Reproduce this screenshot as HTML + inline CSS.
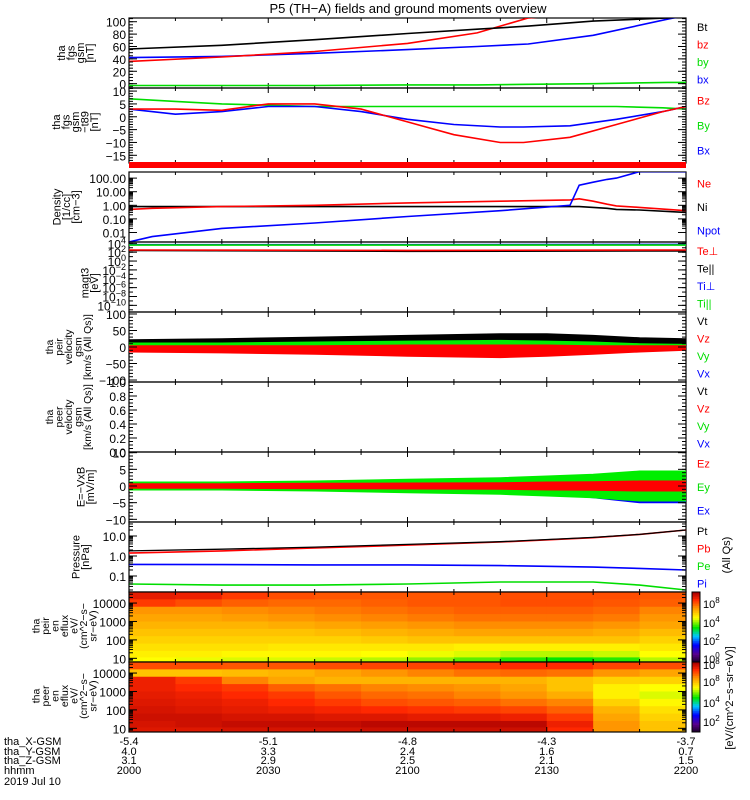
<!DOCTYPE html>
<html><head><meta charset="utf-8"><style>
html,body{margin:0;padding:0;background:#fff;}
svg{display:block;font-family:"Liberation Sans",sans-serif;}
</style></head><body>
<svg id="chart" width="750" height="800" viewBox="0 0 750 800" xmlns="http://www.w3.org/2000/svg">
<defs id="defs"></defs>
<text x="408" y="13" font-size="13" text-anchor="middle">P5 (TH−A) fields and ground moments overview</text>
<g id="g"></g>
</svg>
<script>
// ---- time axis (minutes since 2000) ----
const tickMinutes=[0,30,60,90,120];
const tickHHMM=["2000","2030","2100","2130","2200"];
const tickX=["-5.4","-5.1","-4.8","-4.3","-3.7"];
const tickY=["4.0","3.3","2.4","1.6","0.7"];
const tickZ=["3.1","2.9","2.5","2.1","1.5"];
// ---- panel 1: B field gsm ----
const p1T=[0,20,40,60,75,86,100,116,120];
const p1Bt=[56,62,71,81,88,93,101,106,108];
const p1Bz=[36,43,52,65,82,106,115,120,120];
const p1Bx=[42,44,49,55,60,64,78,104,110];
const p1By=[-3,-3,-3,-2,-2,-1,0,2,2];
// ---- panel 2: B - T89 ----
const p2T=[0,10,20,30,40,50,60,70,80,85,95,105,115,120];
const p2Bz=[3,3,2.5,5,5,3,-2,-7,-10,-10,-8,-3,2,4];
const p2Bx=[3,1,2,4,4,2,-1,-3,-4,-4,-3.5,-1,2,4];
const p2By=[7,6,5,4.5,4,4,4,4,4,4,4,4,3.5,3];
// ---- panel 3: density ----
const p3T=[0,5,20,40,60,80,95,97,100,103,105,110,120];
const p3Ni=[0.8,0.8,0.8,0.8,0.8,0.8,0.8,0.8,0.7,0.6,0.5,0.45,0.3];
const p3Ne=[0.5,0.6,0.8,1,1.5,2,2.5,3,2,1.2,0.9,0.7,0.4];
const p3Np=[0.002,0.005,0.02,0.05,0.15,0.4,1,30,50,80,100,300,300];
// ---- panel 4: temperatures (log10 eV) ----
const p4T=[0,60,120];
const p4TeP=[2.5,2.4,2.5];
const p4TePar=[2.4,2.2,2.3];
const p4TiP=[3.7,3.7,3.75];
const p4TiPar=[3.6,3.6,3.6];
// ---- panel 5: ion velocity envelopes (lo/hi) ----
const vT=[0,20,40,60,80,90,100,110,120];
const vtLo=[8,8,8,8,8,8,6,5,5];
const vtHi=[22,25,30,35,40,40,35,28,25];
const vyLo=[-12,-14,-18,-22,-25,-22,-18,-12,-8];
const vyHi=[12,12,15,18,20,18,15,10,8];
const vxLo=[-15,-15,-18,-22,-25,-22,-18,-12,-8];
const vxHi=[6,6,8,8,8,8,6,5,5];
const vzLo=[-15,-18,-22,-28,-32,-28,-22,-15,-10];
const vzHi=[4,4,4,6,6,6,4,4,4];
// ---- panel 7: E field envelopes ----
const eT=[0,20,40,60,80,90,100,110,120];
const eyLo=[-1.2,-1.2,-1.5,-2,-2.5,-3,-3.5,-4.5,-4.5];
const eyHi=[1.2,1.2,1.5,2,2.5,3,3.5,4.5,4.5];
const exLo=[-0.8,-0.8,-1.2,-1.5,-2,-2.5,-3.5,-5,-5];
const exHi=[0.8,0.8,1,1.2,1.5,2,2.5,3,3];
const ezLo=[-0.7,-0.7,-0.8,-0.9,-1,-1.2,-1.3,-1.5,-1.5];
const ezHi=[0.7,0.7,0.8,0.9,1,1.2,1.3,1.5,1.5];
// ---- panel 8: pressure ----
const pT=[0,20,40,60,80,100,110,120];
const pPt=[1.8,2.2,2.8,3.8,5.2,8.5,12,20];
const pPb=[1.4,1.8,2.5,3.5,5,8.2,12,20];
const pPe=[0.38,0.37,0.36,0.36,0.33,0.28,0.24,0.2];
const pPi=[0.04,0.035,0.035,0.04,0.05,0.05,0.035,0.02];
// ---- spectrograms (normalized 0..1 colour values), rows high->low energy ----
const specE=[4.4,4.0,3.6,3.2,2.8,2.4,2.0,1.6,1.2,0.9];
const specT=[0,10,20,30,40,50,60,70,80,90,100,110];
const ionFlux=[
[0.93,0.92,0.88,0.86,0.85,0.85,0.85,0.85,0.86,0.86,0.86,0.85],
[0.88,0.86,0.84,0.83,0.83,0.84,0.85,0.85,0.86,0.86,0.85,0.84],
[0.78,0.78,0.79,0.8,0.81,0.82,0.83,0.84,0.84,0.84,0.83,0.8],
[0.76,0.76,0.77,0.78,0.79,0.8,0.81,0.82,0.82,0.82,0.81,0.78],
[0.74,0.74,0.74,0.75,0.76,0.77,0.78,0.79,0.79,0.79,0.78,0.76],
[0.72,0.72,0.72,0.72,0.73,0.74,0.75,0.76,0.76,0.76,0.75,0.73],
[0.7,0.7,0.7,0.7,0.7,0.71,0.72,0.72,0.72,0.72,0.72,0.7],
[0.68,0.68,0.68,0.67,0.67,0.67,0.67,0.66,0.66,0.66,0.66,0.67],
[0.66,0.66,0.65,0.65,0.65,0.64,0.63,0.62,0.6,0.6,0.61,0.64],
[0.64,0.63,0.62,0.62,0.61,0.6,0.58,0.55,0.52,0.5,0.52,0.6]];
const eleFlux=[
[0.86,0.86,0.85,0.85,0.86,0.87,0.87,0.88,0.9,0.9,0.87,0.86],
[0.72,0.72,0.73,0.74,0.76,0.78,0.8,0.82,0.83,0.82,0.78,0.76],
[0.92,0.88,0.8,0.76,0.74,0.74,0.74,0.74,0.74,0.72,0.7,0.7],
[0.92,0.9,0.88,0.84,0.82,0.8,0.79,0.78,0.76,0.72,0.66,0.64],
[0.93,0.92,0.9,0.88,0.85,0.83,0.82,0.8,0.78,0.75,0.66,0.62],
[0.94,0.93,0.92,0.9,0.88,0.86,0.85,0.84,0.82,0.8,0.7,0.65],
[0.95,0.94,0.93,0.92,0.91,0.9,0.89,0.88,0.87,0.84,0.74,0.68],
[0.96,0.96,0.95,0.95,0.94,0.94,0.93,0.93,0.92,0.88,0.76,0.7],
[0.95,0.96,0.97,0.97,0.97,0.98,0.98,0.98,0.98,0.92,0.78,0.72],
[0.94,0.94,0.95,0.95,0.95,0.96,0.96,0.96,0.96,0.9,0.78,0.72]];

const NS="http://www.w3.org/2000/svg";
const G=document.getElementById('g');
const DEFS=document.getElementById('defs');
const X0=129,X1=686;
let curClip='';
function xs(t){return X0+(t/120)*(X1-X0);}
function el(tag,a,parent){const e=document.createElementNS(NS,tag);for(const k in a)e.setAttribute(k,a[k]);(parent||G).appendChild(e);return e;}
function linMap(top,bot,vTop,vBot){return v=>top+(v-vTop)/(vBot-vTop)*(bot-top);}
function logMap(top,bot,vTop,vBot){return v=>top+(Math.log10(v)-vTop)/(vBot-vTop)*(bot-top);}
function clip(top,bot,id){const c=el('clipPath',{id:id},DEFS);el('rect',{x:X0,y:top,width:X1-X0,height:bot-top},c);curClip='url(#'+id+')';}
function line(T,V,ys,col,name,w){
  const pts=T.map((t,i)=>xs(t).toFixed(1)+','+ys(V[i]).toFixed(1)).join(' ');
  const e=el('polyline',{points:pts,fill:'none',stroke:col,'stroke-width':w||1.6,'clip-path':curClip});
  
  
}
function band(T,lo,hi,ys,col,name){
  let pts=T.map((t,i)=>xs(t).toFixed(1)+','+ys(hi[i]).toFixed(1));
  pts=pts.concat(T.map((t,i)=>xs(t).toFixed(1)+','+ys(lo[i]).toFixed(1)).reverse());
  const e=el('polygon',{points:pts.join(' '),fill:col,stroke:col,'stroke-width':1,'clip-path':curClip});
  
  
}
function frame(top,bot,name){
  const e=el('rect',{x:X0,y:top,width:X1-X0,height:bot-top,fill:'none',stroke:'#000','stroke-width':1.2});
  
  
  for(let m=0;m<=120;m+=10){const x=xs(m);const L=(m%30===0)?5:3;
    el('line',{x1:x,x2:x,y1:top,y2:top+L,stroke:'#000'});el('line',{x1:x,x2:x,y1:bot,y2:bot-L,stroke:'#000'});}
}
function yTicks(ys,majors,labels,minors,name){
  majors.forEach((v,i)=>{const y=ys(v);
    el('line',{x1:X0,x2:X0+8,y1:y,y2:y,stroke:'#000'});el('line',{x1:X1,x2:X1-8,y1:y,y2:y,stroke:'#000'});
    const t=el('text',{x:X0-3,y:y+5,'font-size':12,'text-anchor':'end'});t.textContent=labels[i];
    
    });
  minors.forEach(v=>{const y=ys(v);
    el('line',{x1:X0,x2:X0+4,y1:y,y2:y,stroke:'#000'});el('line',{x1:X1,x2:X1-4,y1:y,y2:y,stroke:'#000'});});
}
function ylab(lines,xc,yc,name,fs){
  const g=el('g',{transform:`translate(${xc},${yc}) rotate(-90)`});
  
  
  const n=lines.length;lines.forEach((s,i)=>{const t=el('text',{x:0,y:(i-(n-1)/2)*9.5+4,'font-size':fs||11,'text-anchor':'middle'},g);t.textContent=s;});
}
function legend(items,top,bot,name){
  const n=items.length;items.forEach((it,i)=>{const y=top+(bot-top)*(i+0.5)/n+4;
    const t=el('text',{x:697,y:y,'font-size':11,fill:it[1]});t.textContent=it[0];
    
    });
}
function range(a,b,s){const r=[];for(let v=a;v<=b+1e-9;v+=s)r.push(+v.toFixed(4));return r;}
function logMinors(d0,d1){const r=[];for(let d=d0;d<d1;d++)for(let k=2;k<10;k++)r.push(k*Math.pow(10,d));return r;}

// Panel 1
let ys=linMap(18,88,106,-7);
clip(18,88,'c1');
frame(18,88,'panel-bfield');
line(p1T,p1By,ys,'#00dd00','by-line');line(p1T,p1Bx,ys,'#0000ff','bx-line');line(p1T,p1Bz,ys,'#ff0000','bz-line');line(p1T,p1Bt,ys,'#000','bt-line');
yTicks(ys,[0,20,40,60,80,100],['0','20','40','60','80','100'],range(-5,105,5),'bfield');
ylab(['tha','fgs','gsm','[nT]'],75,53,'bfield-axis-title');
legend([['Bt','#000'],['bz','#f00'],['by','#0d0'],['bx','#00f']],18,88,'legend-bfield');

// Panel 2
ys=linMap(88,163,11.2,-18);
clip(88,163,'c2');
frame(88,163,'panel-bt89');
line(p2T,p2By,ys,'#00dd00','by-t89-line');line(p2T,p2Bx,ys,'#0000ff','bx-t89-line');line(p2T,p2Bz,ys,'#ff0000','bz-t89-line');
yTicks(ys,[-15,-10,-5,0,5,10],['−15','−10','−5','0','5','10'],range(-17,11,1),'bt89');
ylab(['tha','fgs','gsm','−t89','[nT]'],75,122,'bt89-axis-title');
legend([['Bz','#f00'],['By','#0d0'],['Bx','#00f']],88,163,'legend-bt89');
const bar=el('rect',{x:X0,y:162,width:X1-X0,height:6,fill:'#ff0000'});



// Panel 3
ys=logMap(172,242,2.45,-2.7);
clip(172,242,'c3');
frame(172,242,'panel-density');
line(p3T,p3Ni,ys,'#000','ni-line');line(p3T,p3Ne,ys,'#ff0000','ne-line');
line(p3T,p3Np,ys,'#0000ff','npot-line');
yTicks(ys,[0.01,0.1,1,10,100],['0.01','0.10','1.00','10.00','100.00'],logMinors(-2,2),'density');
ylab(['Density','[1/cc]','[cm−3]'],66,207,'density-axis-title');
legend([['Ne','#f00'],['Ni','#000'],['Npot','#00f']],172,242,'legend-density');

// Panel 4
ys=linMap(242,312,4.3,-11.5);
clip(242,312,'c4');
frame(242,312,'panel-temperature');
line(p4T,p4TiP,ys,'#0000ff','ti-perp-line');line(p4T,p4TiPar,ys,'#00dd00','ti-par-line');
line(p4T,p4TePar,ys,'#000','te-par-line');line(p4T,p4TeP,ys,'#ff0000','te-perp-line');
yTicks(ys,[4,2,0,-2,-4,-6,-8,-10],['','','','','','','',''],range(-11,4,1),'temperature');
[[4,'4'],[2,'2'],[0,'0'],[-2,'−2'],[-4,'−4'],[-6,'−6'],[-8,'−8'],[-10,'−10']].forEach(a=>{const y=ys(a[0]);
  const t=el('text',{x:X0-3,y:y+5,'font-size':12,'text-anchor':'end'});
  
  
  const b=document.createElementNS(NS,'tspan');b.textContent='10';t.appendChild(b);
  const s=document.createElementNS(NS,'tspan');s.setAttribute('dy','-5');s.setAttribute('font-size','9');s.textContent=a[1];t.appendChild(s);});
ylab(['magt3','[eV]'],89,283,'temperature-axis-title');
legend([['Te⊥','#f00'],['Te||','#000'],['Ti⊥','#00f'],['Ti||','#0d0']],242,312,'legend-temperature');

// Panel 5
ys=linMap(312,382,106,-106);
clip(312,382,'c5');
frame(312,382,'panel-ion-velocity');
band(vT,vtLo,vtHi,ys,'#000','vt-band');band(vT,vxLo,vxHi,ys,'#0000ff','vx-band');band(vT,vyLo,vyHi,ys,'#00ee00','vy-band');band(vT,vzLo,vzHi,ys,'#ff0000','vz-band');
yTicks(ys,[-100,-50,0,50,100],['−100','−50','0','50','100'],range(-100,100,10),'ion-velocity');
ylab(['tha','peir','velocity','gsm','[km/s (All Qs)]'],68,347,'ion-velocity-axis-title',10.5);
legend([['Vt','#000'],['Vz','#f00'],['Vy','#0d0'],['Vx','#00f']],312,382,'legend-ion-velocity');

// Panel 6
ys=linMap(382,452,1.0,0.0);
frame(382,452,'panel-electron-velocity');
yTicks(ys,[0,0.2,0.4,0.6,0.8,1.0],['0.0','0.2','0.4','0.6','0.8','1.0'],range(0,1,0.05),'electron-velocity');
ylab(['tha','peer','velocity','gsm','[km/s (All Qs)]'],68,417,'electron-velocity-axis-title',10.5);
legend([['Vt','#000'],['Vz','#f00'],['Vy','#0d0'],['Vx','#00f']],382,452,'legend-electron-velocity');

// Panel 7
ys=linMap(452,522,10.2,-10.8);
clip(452,522,'c7');
frame(452,522,'panel-efield');
band(eT,exLo,exHi,ys,'#0000ff','ex-band');band(eT,eyLo,eyHi,ys,'#00ee00','ey-band');band(eT,ezLo,ezHi,ys,'#ff0000','ez-band');
yTicks(ys,[-10,-5,0,5,10],['−10','−5','0','5','10'],range(-10,10,1),'efield');
ylab(['E=−VxB','[mV/m]'],85,487,'efield-axis-title');
legend([['Ez','#f00'],['Ey','#0d0'],['Ex','#00f']],452,522,'legend-efield');

// Panel 8
ys=logMap(522,592,1.7,-1.8);
clip(522,592,'c8');
frame(522,592,'panel-pressure');
line(pT,pPi,ys,'#00dd00','pi-line');line(pT,pPe,ys,'#0000ff','pe-line');line(pT,pPb,ys,'#ff0000','pb-line');line(pT,pPt,ys,'#000','pt-line',1.3);
yTicks(ys,[0.1,1,10],['0.1','1.0','10.0'],logMinors(-2,2).filter(v=>v>0.016&&v<50),'pressure');
ylab(['Pressure','[nPa]'],80,557,'pressure-axis-title');
legend([['Pt','#000'],['Pb','#f00'],['Pe','#0d0'],['Pi','#00f']],522,592,'legend-pressure');
ylab(['(All Qs)'],726,555,'pressure-units-note');

// colormap
const stops=[[0,[20,0,30]],[0.12,[90,0,140]],[0.25,[0,0,255]],[0.38,[0,200,255]],[0.5,[0,230,0]],[0.64,[255,255,0]],[0.78,[255,150,0]],[0.9,[255,40,0]],[1,[170,0,0]]];
function cmap(v){v=Math.max(0,Math.min(1,v));for(let i=1;i<stops.length;i++){if(v<=stops[i][0]){const a=stops[i-1],b=stops[i],f=(v-a[0])/(b[0]-a[0]);
  return 'rgb('+a[1].map((c,k)=>Math.round(c+(b[1][k]-c)*f)).join(',')+')';}}return 'rgb(170,0,0)';}
function spec(top,bot,flux,name){
  const ey=linMap(top,bot,4.6,0.8);
  const g=el('g',{});
  
  
  flux.forEach((row,r)=>{row.forEach((v,c)=>{
    const xa=xs(specT[c]),xb=(c+1<specT.length)?xs(specT[c+1]):X1;
    const ya=r===0?top:(ey(specE[r])+ey(specE[r-1]))/2, yb=r===flux.length-1?bot:(ey(specE[r])+ey(specE[r+1]))/2;
    el('rect',{x:xa,y:ya,width:xb-xa+0.5,height:yb-ya+0.5,fill:cmap(v)},g);});});
  frame(top,bot,name);
  yTicks(ey,[1,2,3,4],['10','100','1000','10000'],logMinors(0,5).map(Math.log10).filter(v=>v>0.85&&v<4.55),name);
  const cb=el('g',{});
  
  
  const n=40;for(let i=0;i<n;i++){el('rect',{x:692,y:top+(bot-top)*i/n,width:8,height:(bot-top)/n+0.5,fill:cmap(1-i/n)},cb);}
  el('rect',{x:692,y:top,width:8,height:bot-top,fill:'none',stroke:'#000'},cb);
}
spec(592,662,ionFlux,'ion-spectrogram');
ylab(['tha','peir','en','eflux','eV/','(cm^2−s−','sr−eV)'],64,626,'ion-spectrogram-axis-title',10.5);
spec(662,732,eleFlux,'electron-spectrogram');
ylab(['tha','peer','en','eflux','eV/','(cm^2−s−','sr−eV)'],64,696,'electron-spectrogram-axis-title',10.5);
function cbLabels(arr,name){arr.forEach(a=>{const t=el('text',{x:703,y:a[0]+4,'font-size':11});
  
  
  const b=document.createElementNS(NS,'tspan');b.textContent='10';t.appendChild(b);
  const s=document.createElementNS(NS,'tspan');s.setAttribute('dy','-5');s.setAttribute('font-size','8');s.textContent=a[1];t.appendChild(s);});}
cbLabels([[604,'8'],[623,'4'],[641,'2'],[659,'0']],'ion-colorbar-label');
cbLabels([[665,'8'],[682,'8'],[703,'4'],[722,'2']],'electron-colorbar-label');
ylab(['[eV/(cm^2−s−sr−eV)]'],729,698,'colorbar-title',11);

// bottom axis text
[['tha_X-GSM',745],['tha_Y-GSM',755],['tha_Z-GSM',764],['hhmm',774],['2019 Jul 10',785]].forEach(a=>{
  const t=el('text',{x:4,y:a[1],'font-size':11});t.textContent=a[0];
  
  });
tickMinutes.forEach((m,i)=>{[[tickX,745],[tickY,755],[tickZ,764],[tickHHMM,774]].forEach(r=>{
  const t=el('text',{x:xs(m),y:r[1],'font-size':11,'text-anchor':'middle'});t.textContent=r[0][i];
  
  });});
</script>
</body></html>
